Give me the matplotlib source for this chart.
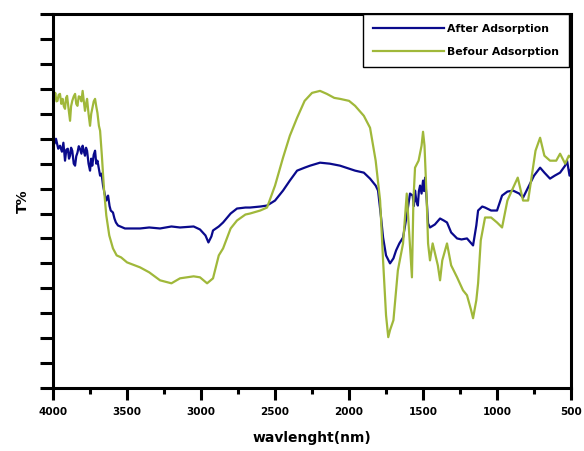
import numpy as np
import matplotlib
matplotlib.use("Agg")
import matplotlib.pyplot as plt

# FTIR-style spectra (x = wavelength, y = T% in tick units)
after_w = [4000, 3990, 3980, 3965, 3953, 3940, 3930, 3919, 3910, 3900, 3892, 3885,
           3878, 3870, 3860, 3851, 3843, 3835, 3826, 3818, 3808, 3800, 3792, 3784,
           3777, 3770, 3760, 3750, 3742, 3735, 3725, 3716, 3708, 3700, 3690, 3682,
           3672, 3662, 3650, 3640, 3628, 3618, 3610, 3595, 3585, 3575, 3561, 3514,
           3412, 3350, 3277, 3200, 3142, 3050, 3007, 2970, 2950, 2930, 2919, 2900,
           2880, 2851, 2800, 2757, 2700, 2669, 2600, 2554, 2500, 2446, 2400, 2351,
           2300, 2263, 2196, 2130, 2061, 2000, 1959, 1900, 1858, 1820, 1804, 1785,
           1770, 1750, 1723, 1700, 1682, 1660, 1635, 1610, 1588, 1570, 1562, 1554,
           1545, 1535, 1528, 1520, 1510, 1500, 1493, 1486, 1475, 1466, 1453, 1420,
           1385, 1360, 1338, 1310, 1270, 1240, 1203, 1180, 1162, 1140, 1128, 1100,
           1081, 1040, 1000, 966, 930, 892, 850, 824, 790, 750, 709, 680, 642, 610,
           574, 540, 527, 510, 500]
after_t = [9.92, 9.8, 10.0, 9.6, 9.72, 9.48, 9.84, 9.12, 9.56, 9.6, 9.2, 9.32,
           9.64, 9.52, 9.0, 8.92, 9.3, 9.44, 9.7, 9.6, 9.4, 9.72, 9.5, 9.32,
           9.64, 9.52, 9.0, 8.72, 9.2, 8.92, 9.36, 9.52, 9.0, 9.12, 8.8, 8.52,
           8.6, 8.12, 7.76, 7.52, 7.72, 7.3, 7.12, 7.04, 6.8, 6.64, 6.52, 6.4,
           6.4, 6.44, 6.4, 6.48, 6.44, 6.48, 6.36, 6.12, 5.84, 6.08, 6.32, 6.4,
           6.48, 6.64, 7.0, 7.2, 7.24, 7.24, 7.28, 7.32, 7.52, 7.92, 8.32, 8.72,
           8.84, 8.92, 9.04, 9.0, 8.92, 8.8, 8.72, 8.64, 8.4, 8.12, 7.92, 6.92,
           6.04, 5.32, 5.0, 5.2, 5.52, 5.8, 6.04, 6.92, 7.8, 7.72, 7.3, 7.92,
           7.5, 7.32, 7.9, 8.12, 7.8, 8.32, 7.9, 8.44, 7.52, 6.6, 6.44, 6.56,
           6.8, 6.72, 6.64, 6.24, 6.0, 5.96, 6.0, 5.84, 5.72, 6.52, 7.12, 7.28,
           7.24, 7.12, 7.12, 7.72, 7.88, 7.92, 7.8, 7.64, 8.04, 8.52, 8.84, 8.64,
           8.4, 8.52, 8.64, 8.92, 9.12, 8.52, 8.8]

before_w = [4000, 3992, 3985, 3977, 3970, 3962, 3953, 3944, 3935, 3927, 3919, 3912,
            3905, 3895, 3885, 3878, 3870, 3860, 3851, 3843, 3835, 3826, 3818, 3808,
            3800, 3792, 3784, 3777, 3770, 3760, 3750, 3742, 3735, 3725, 3716, 3708,
            3700, 3690, 3682, 3670, 3655, 3640, 3620, 3595, 3570, 3540, 3500, 3412,
            3350, 3277, 3200, 3142, 3050, 3007, 2975, 2959, 2935, 2919, 2880, 2851,
            2800, 2757, 2700, 2669, 2600, 2554, 2500, 2446, 2400, 2351, 2300, 2250,
            2196, 2150, 2100, 2061, 2000, 1959, 1900, 1858, 1820, 1790, 1770, 1750,
            1735, 1723, 1700, 1670, 1635, 1610, 1590, 1575, 1565, 1554, 1530, 1510,
            1500, 1490, 1486, 1475, 1466, 1453, 1435, 1400, 1385, 1370, 1338, 1310,
            1270, 1230, 1203, 1175, 1162, 1140, 1128, 1110, 1081, 1040, 1000, 966,
            930, 900, 860, 824, 790, 770, 740, 709, 680, 642, 600, 574, 540, 515,
            500]
before_t = [11.72, 11.6, 11.84, 11.5, 11.52, 11.76, 11.8, 11.4, 11.6, 11.3, 11.2, 11.64,
            11.72, 11.2, 10.72, 11.3, 11.52, 11.7, 11.8, 11.4, 11.32, 11.7, 11.68, 11.5,
            11.92, 11.5, 11.12, 11.4, 11.6, 11.0, 10.52, 11.0, 11.2, 11.5, 11.6, 11.3,
            11.04, 10.52, 10.32, 9.32, 7.92, 6.92, 6.12, 5.6, 5.32, 5.24, 5.04, 4.84,
            4.64, 4.32, 4.2, 4.4, 4.48, 4.44, 4.28, 4.2, 4.32, 4.4, 5.32, 5.6,
            6.4, 6.72, 6.96, 7.0, 7.12, 7.24, 8.12, 9.24, 10.12, 10.84, 11.52, 11.84,
            11.92, 11.8, 11.64, 11.6, 11.52, 11.32, 10.92, 10.44, 9.12, 7.52, 5.12, 2.92,
            2.04, 2.32, 2.72, 4.72, 5.8, 7.8, 5.92, 4.44, 7.52, 8.84, 9.12, 9.72,
            10.28, 9.72, 9.12, 7.52, 5.8, 5.12, 5.8, 4.92, 4.32, 5.12, 5.8, 4.92,
            4.44, 3.92, 3.72, 3.12, 2.8, 3.52, 4.2, 5.92, 6.84, 6.84, 6.64, 6.44,
            7.52, 7.92, 8.44, 7.52, 7.52, 8.32, 9.52, 10.04, 9.32, 9.12, 9.12, 9.4,
            9.0, 9.32, 9.24]

blue = "#0a0a8c"
green = "#a0b83a"

fig = plt.figure(figsize=(5.84, 4.51), dpi=100)
ax = fig.add_axes([0.0908, 0.1397, 0.887, 0.829])

ax.plot(after_w, after_t, color=blue, lw=1.6, label="After Adsorption")
ax.plot(before_w, before_t, color=green, lw=1.6, label="Befour Adsorption")

ax.set_xlim(4000, 500)
ax.set_ylim(0, 15)
ax.set_xticks(np.arange(4000, 499, -500))
ax.set_xticks(np.arange(3750, 500, -500), minor=True)
ax.set_yticks(np.arange(0, 16, 1))
ax.set_yticklabels([])

for s in ax.spines.values():
    s.set_linewidth(2.2)
ax.tick_params(axis="x", which="major", direction="out", length=8.5, width=2.2,
               labelsize=7.5, pad=5)
ax.tick_params(axis="x", which="minor", direction="out", length=4.5, width=2.2)
ax.tick_params(axis="y", which="major", direction="out", length=9.5, width=2.2)
for lab in ax.get_xticklabels():
    lab.set_fontweight("bold")

ax.set_xlabel("wavlenght(nm)", fontsize=10, fontweight="bold", labelpad=10)
ax.set_ylabel("T%", fontsize=10, fontweight="bold", labelpad=4)

leg = ax.legend(loc="upper right", bbox_to_anchor=(0.9955, 1.0), fancybox=False,
                edgecolor="black", framealpha=1, prop={"size": 7.8, "weight": "bold"},
                handlelength=6.6, handletextpad=0.25, labelspacing=1.2,
                borderpad=0.9, borderaxespad=0)
leg.get_frame().set_linewidth(1.0)

fig.savefig("out.png", dpi=100)
